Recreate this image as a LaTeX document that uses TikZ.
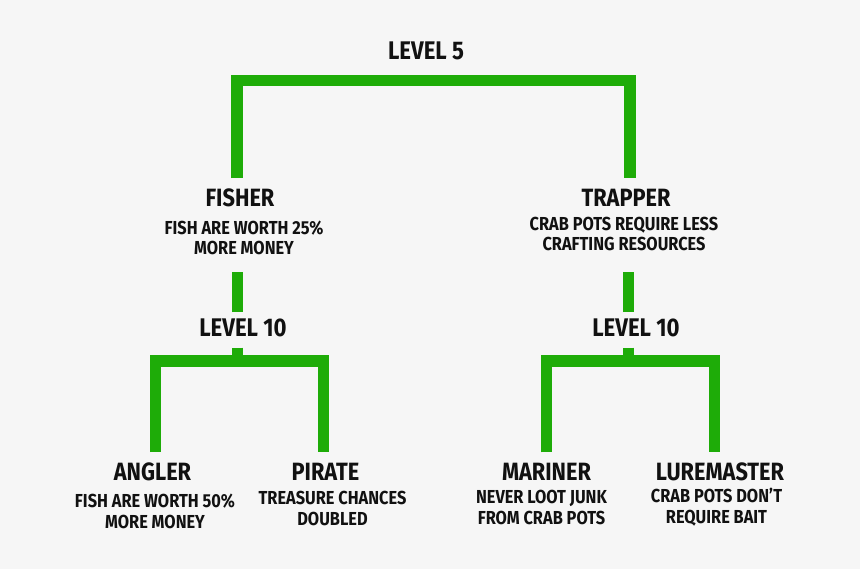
\documentclass[tikz,border=0pt]{standalone}
\usepackage{fontspec}
\setmainfont{Fira Sans}[FakeStretch=0.87]
\usepackage{tikz}
\usetikzlibrary{positioning}

\definecolor{skillgreen}{RGB}{30,172,8}
\definecolor{paper}{RGB}{246,246,246}
\definecolor{ink}{RGB}{17,17,17}

\begin{document}
\begin{tikzpicture}[x=1pt, y=-1pt,
    title/.style={font=\bfseries\fontsize{25}{30}\selectfont, text=ink, inner sep=0pt, anchor=base},
    lvl/.style={font=\bfseries\fontsize{25.5}{30}\selectfont, text=ink, inner sep=0pt, anchor=base},
    perk/.style={font=\bfseries\fontsize{18.8}{20.5}\selectfont, text=ink, inner sep=0pt, align=center, anchor=base},
    branch/.style={draw=skillgreen, line width=11.5pt}]
    \fill[paper] (0,0) rectangle (860,569);
    \useasboundingbox (0,0) rectangle (860,569);

    % level 5
    \node[lvl] (l5) at (426,60) {LEVEL 5};
    \node[title] (fisher) at (240,207) {FISHER};
    \node[title] (trapper) at (626,207) {TRAPPER};
    % perk text sits on the baseline of its last line
    \node[perk] (fisherp) at (244,255) {FISH ARE WORTH 25\%\\MORE MONEY};
    \node[perk] (trapperp) at (624,251) {CRAB POTS REQUIRE LESS\\CRAFTING RESOURCES};

    % level 10
    \node[lvl] (l10a) at (243,337) {LEVEL 10};
    \node[lvl] (l10b) at (636,337) {LEVEL 10};

    \node[title] (angler) at (152.5,480) {ANGLER};
    \node[title] (pirate) at (325.5,480) {PIRATE};
    \node[title] (mariner) at (546.5,480) {MARINER};
    \node[title] (lure) at (720,480) {LUREMASTER};

    \node[perk] (anglerp) at (155,528) {FISH ARE WORTH 50\%\\MORE MONEY};
    \node[perk] (piratep) at (332.5,525) {TREASURE CHANCES\\DOUBLED};
    \node[perk] (marinerp) at (541.5,524) {NEVER LOOT JUNK\\FROM CRAB POTS};
    \node[perk] (lurep) at (716.5,523) {CRAB POTS DON'T\\REQUIRE BAIT};

    \coordinate (bar5) at (433,80.5);
    \coordinate (barA) at (237.5,361);
    \coordinate (barB) at (628.5,361);

    \draw[branch, shorten <=11pt, shorten >=11pt]
        ([xshift=-3pt]fisher.north) |- (bar5) -| ([xshift=4pt]trapper.north);

    \draw[branch, shorten <=7pt] (barA |- l10a.north) -- ++(0,-47);
    \draw[branch, shorten <=7pt] (barB |- l10b.north) -- ++(0,-47);

    \draw[branch, shorten <=10pt] (barA |- l10a.south) -- (barA);
    \draw[branch, shorten <=10pt] (barB |- l10b.south) -- (barB);

    \draw[branch, shorten <=10pt, shorten >=10pt]
        ([xshift=3pt]angler.north) |- (barA) -| ([xshift=-2pt]pirate.north);
    \draw[branch, shorten <=10pt, shorten >=10pt]
        (mariner.north) |- (barB) -| ([xshift=-5.5pt]lure.north);
\end{tikzpicture}
\end{document}
